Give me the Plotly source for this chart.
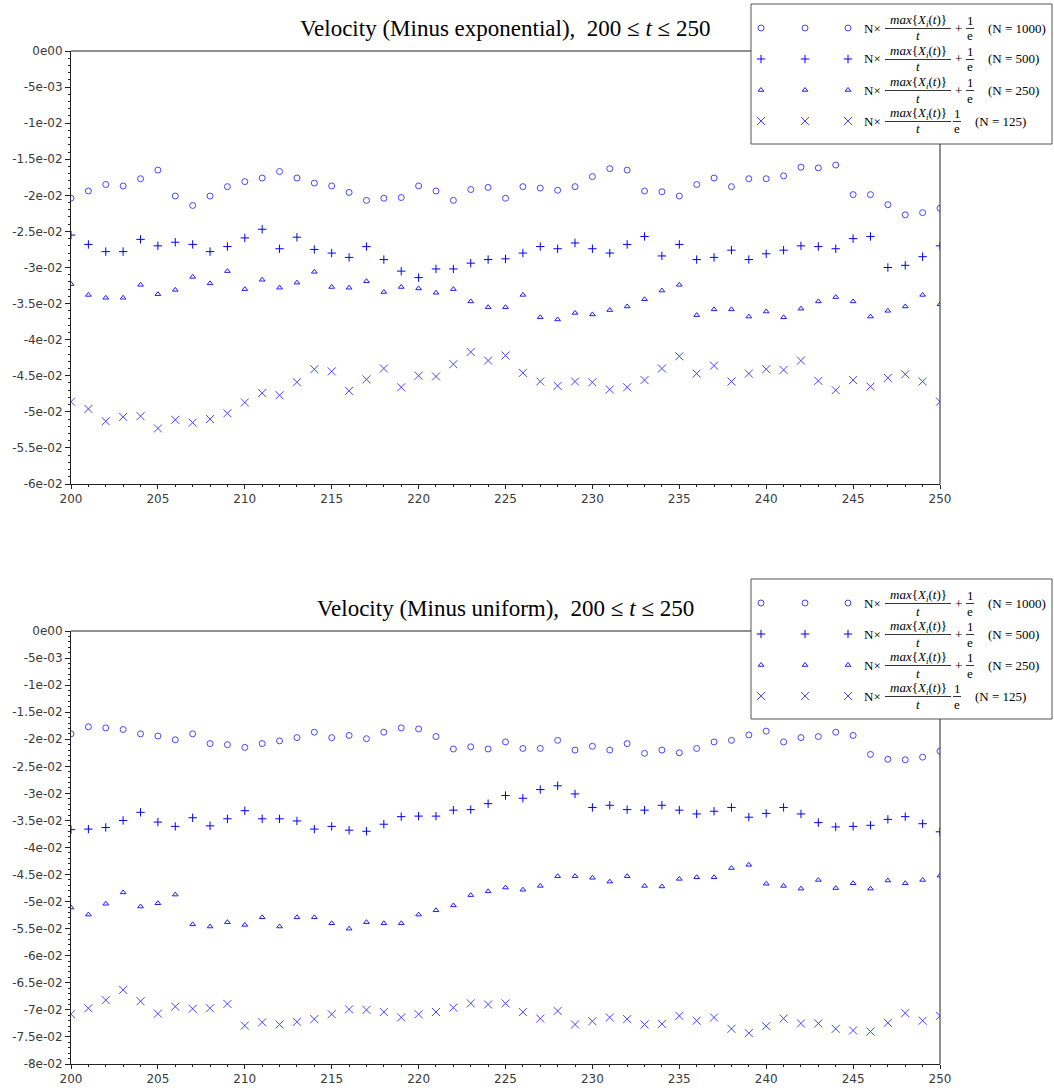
import plotly.graph_objects as go

# ---------------- data ----------------
t = list(range(200, 251))

exp_n1000 = [-0.0204, -0.0194, -0.0185, -0.0187, -0.0177, -0.0165, -0.0201, -0.0214, -0.0201, -0.0188,
             -0.0181, -0.0176, -0.0167, -0.0176, -0.0183, -0.0187, -0.0196, -0.0207, -0.0204, -0.0203,
             -0.0187, -0.0194, -0.0207, -0.0192, -0.0189, -0.0204, -0.0188, -0.0190, -0.0193, -0.0188,
             -0.0174, -0.0163, -0.0165, -0.0194, -0.0195, -0.0201, -0.0185, -0.0176, -0.0188, -0.0177,
             -0.0177, -0.0173, -0.0161, -0.0162, -0.0158, -0.0199, -0.0199, -0.0213, -0.0227, -0.0224,
             -0.0218]
exp_n500 = [-0.0255, -0.0268, -0.0278, -0.0278, -0.0261, -0.0270, -0.0265, -0.0268, -0.0278, -0.0271,
            -0.0259, -0.0247, -0.0274, -0.0258, -0.0275, -0.0280, -0.0286, -0.0271, -0.0289, -0.0305,
            -0.0314, -0.0302, -0.0302, -0.0294, -0.0289, -0.0288, -0.0280, -0.0271, -0.0274, -0.0266,
            -0.0274, -0.0280, -0.0268, -0.0257, -0.0284, -0.0268, -0.0289, -0.0286, -0.0276, -0.0289,
            -0.0281, -0.0276, -0.0270, -0.0271, -0.0274, -0.0260, -0.0257, -0.0300, -0.0297, -0.0285,
            -0.0270]
exp_n250 = [-0.0323, -0.0338, -0.0342, -0.0342, -0.0324, -0.0337, -0.0331, -0.0313, -0.0322, -0.0305,
            -0.0330, -0.0317, -0.0328, -0.0321, -0.0306, -0.0327, -0.0328, -0.0319, -0.0334, -0.0327,
            -0.0329, -0.0335, -0.0330, -0.0347, -0.0355, -0.0355, -0.0338, -0.0369, -0.0372, -0.0363,
            -0.0365, -0.0359, -0.0354, -0.0344, -0.0332, -0.0324, -0.0366, -0.0358, -0.0358, -0.0368,
            -0.0361, -0.0369, -0.0357, -0.0347, -0.0341, -0.0347, -0.0368, -0.0360, -0.0354, -0.0338,
            -0.0351]
exp_n125 = [-0.0486, -0.0496, -0.0513, -0.0507, -0.0506, -0.0523, -0.0511, -0.0515, -0.0510, -0.0502,
            -0.0487, -0.0474, -0.0477, -0.0459, -0.0441, -0.0444, -0.0471, -0.0455, -0.0440, -0.0466,
            -0.0450, -0.0451, -0.0434, -0.0417, -0.0429, -0.0422, -0.0446, -0.0458, -0.0464, -0.0458,
            -0.0459, -0.0469, -0.0466, -0.0456, -0.0440, -0.0423, -0.0447, -0.0436, -0.0458, -0.0447,
            -0.0441, -0.0442, -0.0429, -0.0457, -0.0470, -0.0456, -0.0465, -0.0453, -0.0448, -0.0458,
            -0.0486]

uni_n1000 = [-0.0190, -0.0177, -0.0179, -0.0182, -0.0190, -0.0194, -0.0201, -0.0190, -0.0208, -0.0210,
             -0.0215, -0.0208, -0.0203, -0.0197, -0.0187, -0.0197, -0.0193, -0.0199, -0.0187, -0.0179,
             -0.0181, -0.0195, -0.0218, -0.0214, -0.0218, -0.0205, -0.0217, -0.0217, -0.0202, -0.0220,
             -0.0213, -0.0220, -0.0208, -0.0226, -0.0220, -0.0225, -0.0217, -0.0205, -0.0202, -0.0192,
             -0.0185, -0.0205, -0.0197, -0.0195, -0.0187, -0.0193, -0.0228, -0.0237, -0.0238, -0.0233,
             -0.0222]
uni_n500 = [-0.0367, -0.0366, -0.0363, -0.0350, -0.0335, -0.0353, -0.0361, -0.0345, -0.0360, -0.0347,
            -0.0332, -0.0347, -0.0347, -0.0351, -0.0366, -0.0361, -0.0368, -0.0370, -0.0357, -0.0343,
            -0.0342, -0.0342, -0.0331, -0.0330, -0.0319, -0.0304, -0.0309, -0.0293, -0.0286, -0.0301,
            -0.0326, -0.0322, -0.0330, -0.0331, -0.0322, -0.0331, -0.0338, -0.0333, -0.0326, -0.0344,
            -0.0337, -0.0326, -0.0338, -0.0354, -0.0362, -0.0361, -0.0359, -0.0348, -0.0343, -0.0356,
            -0.0371]
uni_n250 = [-0.0511, -0.0524, -0.0504, -0.0483, -0.0509, -0.0503, -0.0487, -0.0542, -0.0546, -0.0538,
            -0.0543, -0.0529, -0.0546, -0.0529, -0.0529, -0.0540, -0.0550, -0.0538, -0.0540, -0.0540,
            -0.0524, -0.0516, -0.0507, -0.0488, -0.0481, -0.0474, -0.0478, -0.0471, -0.0453, -0.0453,
            -0.0456, -0.0463, -0.0453, -0.0471, -0.0472, -0.0458, -0.0455, -0.0455, -0.0438, -0.0432,
            -0.0467, -0.0471, -0.0476, -0.0460, -0.0475, -0.0466, -0.0476, -0.0461, -0.0466, -0.0460,
            -0.0452]
uni_n125 = [-0.0708, -0.0697, -0.0682, -0.0663, -0.0684, -0.0707, -0.0694, -0.0698, -0.0697, -0.0689,
            -0.0729, -0.0723, -0.0727, -0.0722, -0.0717, -0.0708, -0.0699, -0.0700, -0.0704, -0.0714,
            -0.0708, -0.0704, -0.0696, -0.0688, -0.0690, -0.0688, -0.0704, -0.0716, -0.0702, -0.0727,
            -0.0721, -0.0714, -0.0717, -0.0727, -0.0726, -0.0711, -0.0720, -0.0714, -0.0735, -0.0743,
            -0.0730, -0.0716, -0.0725, -0.0725, -0.0735, -0.0738, -0.0740, -0.0724, -0.0706, -0.0720,
            -0.0711]

n_labels = ["1000", "500", "250", "125"]
titles = ["Velocity (Minus exponential),  200 \u2264 <i>t</i> \u2264 250",
          "Velocity (Minus uniform),  200 \u2264 <i>t</i> \u2264 250"]

x_tickvals = list(range(200, 251, 5))
x_ticktext = [str(v) for v in x_tickvals]

top_ytickvals = [0, -0.005, -0.01, -0.015, -0.02, -0.025, -0.03, -0.035, -0.04, -0.045, -0.05, -0.055, -0.06]
top_yticktext = ["0e00", "-5e-03", "-1e-02", "-1.5e-02", "-2e-02", "-2.5e-02", "-3e-02", "-3.5e-02",
                 "-4e-02", "-4.5e-02", "-5e-02", "-5.5e-02", "-6e-02"]
bot_ytickvals = top_ytickvals + [-0.065, -0.07, -0.075, -0.08]
bot_yticktext = top_yticktext + ["-6.5e-02", "-7e-02", "-7.5e-02", "-8e-02"]

# ---------------- layout helpers ----------------
W, H = 1054, 1088


def fx(px):
    return px / W


def fy(py):
    return 1 - py / H


PLOT_L, PLOT_R = 71, 940
panels = [
    dict(top=51, bottom=484, yr=[-0.06, 0], tv=top_ytickvals, tt=top_yticktext,
         series=[exp_n1000, exp_n500, exp_n250, exp_n125], title=titles[0], title_y=28, leg_dy=0),
    dict(top=631, bottom=1064, yr=[-0.08, 0], tv=bot_ytickvals, tt=bot_yticktext,
         series=[uni_n1000, uni_n500, uni_n250, uni_n125], title=titles[1], title_y=608, leg_dy=575),
]

styles = [
    dict(symbol="circle-open", size=6, color="rgb(70,70,255)"),
    dict(symbol="cross-thin-open", size=6, color="rgb(0,0,255)"),
    dict(symbol="triangle-up-open", size=5, color="rgb(30,30,255)"),
    dict(symbol="x-thin-open", size=8, color="rgb(70,70,255)"),
]

TICKFONT = dict(family="DejaVu Sans", size=12, color="#3a3a3a")
SERIF = "Liberation Serif"

fig = go.Figure()
shapes = []
annotations = []
layout_axes = {}

LEG_L, LEG_R, LEG_T, LEG_B = 751, 1052, 4, 144
row_y = [28, 59, 90, 121]
sw_x = [761, 805, 848]

for i, p in enumerate(panels):
    xa = "x" if i == 0 else "x2"
    ya = "y" if i == 0 else "y2"
    xkey = "xaxis" if i == 0 else "xaxis2"
    ykey = "yaxis" if i == 0 else "yaxis2"
    for j, ser in enumerate(p["series"]):
        st = styles[j]
        fig.add_trace(go.Scatter(
            x=t, y=ser, mode="markers", xaxis=xa, yaxis=ya, showlegend=False,
            name="N = " + n_labels[j],
            marker=dict(symbol=st["symbol"], size=st["size"], color=st["color"],
                        line=dict(width=1, color=st["color"])),
        ))
    layout_axes[xkey] = dict(
        domain=[fx(PLOT_L), fx(PLOT_R)], anchor=ya, range=[200, 250],
        tickvals=x_tickvals, ticktext=x_ticktext, ticks="outside", ticklen=4,
        tickcolor="#222", tickfont=TICKFONT, showline=True, linecolor="#222", linewidth=1,
        showgrid=False, zeroline=False, automargin=False,
        minor=dict(dtick=1, ticks="outside", ticklen=2, tickcolor="#222", showgrid=False),
    )
    layout_axes[ykey] = dict(
        domain=[fy(p["bottom"]), fy(p["top"])], anchor=xa, range=p["yr"],
        tickvals=p["tv"], ticktext=p["tt"], ticks="outside", ticklen=5,
        tickcolor="#222", tickfont=TICKFONT, showline=True, linecolor="#222", linewidth=1,
        showgrid=False, zeroline=False, automargin=False,
        minor=dict(dtick=0.001, tick0=0, ticks="outside", ticklen=2.5, tickcolor="#222", showgrid=False),
    )
    # frame: top and right (stopping at legend box)
    dy = p["leg_dy"]
    shapes.append(dict(type="line", xref="paper", yref="paper",
                       x0=fx(PLOT_L), x1=fx(LEG_L), y0=fy(p["top"]), y1=fy(p["top"]),
                       line=dict(color="#222", width=1)))
    shapes.append(dict(type="line", xref="paper", yref="paper",
                       x0=fx(PLOT_R), x1=fx(PLOT_R), y0=fy(LEG_B + dy), y1=fy(p["bottom"]),
                       line=dict(color="#222", width=1)))
    # legend box
    shapes.append(dict(type="rect", xref="paper", yref="paper", layer="below",
                       x0=fx(LEG_L), x1=fx(LEG_R), y0=fy(LEG_B + dy), y1=fy(LEG_T + dy),
                       line=dict(color="#555", width=1), fillcolor="white"))
    # title
    annotations.append(dict(text=p["title"], xref="paper", yref="paper", x=fx(505), y=fy(p["title_y"]),
                            xanchor="center", yanchor="middle", showarrow=False,
                            font=dict(family=SERIF, size=23, color="black")))
    # legend rows
    for j in range(4):
        ry = row_y[j] + dy
        st = styles[j]
        fig.add_trace(go.Scatter(
            x=sw_x, y=[ry] * 3, mode="markers", xaxis="x3", yaxis="y3", showlegend=False,
            hoverinfo="skip", cliponaxis=False,
            marker=dict(symbol=st["symbol"], size=st["size"], color=st["color"],
                        line=dict(width=1, color=st["color"])),
        ))
        fnt = dict(family=SERIF, size=13, color="black")
        annotations.append(dict(text="N\u00d7", xref="paper", yref="paper", x=fx(862), y=fy(ry),
                                xanchor="left", yanchor="middle", showarrow=False, font=fnt))
        annotations.append(dict(text="<i>max</i>{<i>X</i><sub><i>i</i></sub>(<i>t</i>)}",
                                xref="paper", yref="paper", x=fx(918), y=fy(ry - 7.5),
                                xanchor="center", yanchor="middle", showarrow=False, font=fnt))
        shapes.append(dict(type="line", xref="paper", yref="paper", x0=fx(885), x1=fx(951),
                           y0=fy(ry + 0.5), y1=fy(ry + 0.5), line=dict(color="black", width=0.8)))
        annotations.append(dict(text="<i>t</i>", xref="paper", yref="paper", x=fx(918), y=fy(ry + 8),
                                xanchor="center", yanchor="middle", showarrow=False, font=fnt))
        if j < 3:
            one_x = 970
            annotations.append(dict(text="+", xref="paper", yref="paper", x=fx(958), y=fy(ry),
                                    xanchor="center", yanchor="middle", showarrow=False, font=fnt))
            lab_x = 986
        else:
            one_x = 957
            lab_x = 973
        annotations.append(dict(text="1", xref="paper", yref="paper", x=fx(one_x), y=fy(ry - 7.5),
                                xanchor="center", yanchor="middle", showarrow=False, font=fnt))
        shapes.append(dict(type="line", xref="paper", yref="paper", x0=fx(one_x - 4), x1=fx(one_x + 4),
                           y0=fy(ry + 0.5), y1=fy(ry + 0.5), line=dict(color="black", width=0.8)))
        annotations.append(dict(text="e", xref="paper", yref="paper", x=fx(one_x), y=fy(ry + 8),
                                xanchor="center", yanchor="middle", showarrow=False, font=fnt))
        annotations.append(dict(text="(N = " + n_labels[j] + ")", xref="paper", yref="paper",
                                x=fx(lab_x), y=fy(ry), xanchor="left", yanchor="middle",
                                showarrow=False, font=fnt))

layout_axes["xaxis3"] = dict(domain=[0, 1], range=[0, W], visible=False, anchor="y3", fixedrange=True)
layout_axes["yaxis3"] = dict(domain=[0, 1], range=[H, 0], visible=False, anchor="x3", fixedrange=True)

fig.update_layout(
    width=W, height=H, margin=dict(l=0, r=0, t=0, b=0),
    paper_bgcolor="white", plot_bgcolor="rgba(0,0,0,0)",
    showlegend=False, shapes=shapes, annotations=annotations,
    **layout_axes,
)

fig.write_html("out.html", config={"displayModeBar": False},
               post_script="document.body.style.margin='0';document.body.style.overflow='hidden';")
